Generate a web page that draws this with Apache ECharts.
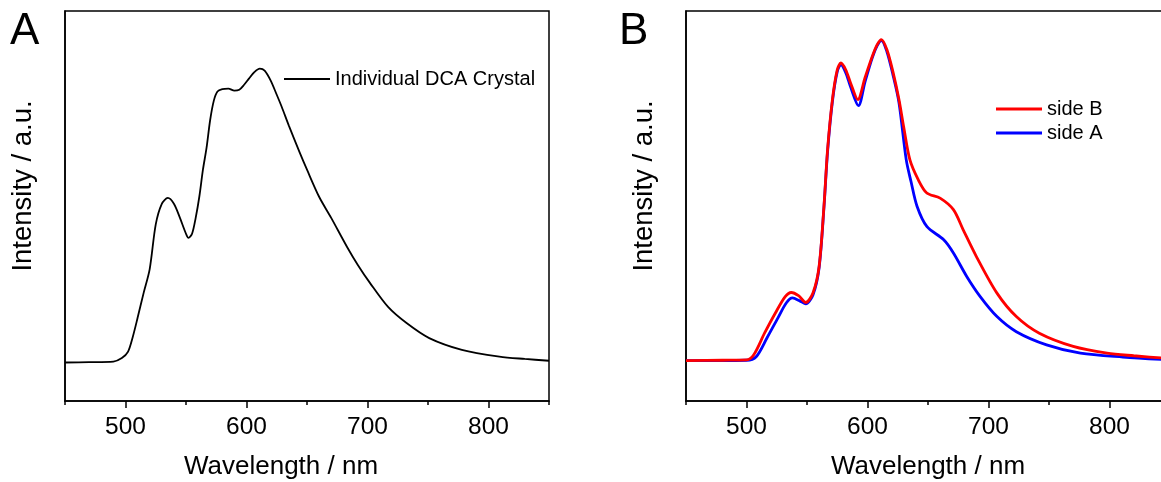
<!DOCTYPE html>
<html>
<head>
<meta charset="utf-8">
<title>DCA crystal emission spectra</title>
<script src="https://cdn.jsdelivr.net/npm/echarts@6/dist/echarts.min.js"></script>
<style>
  html, body { margin: 0; padding: 0; background: #fff; }
  #chart { width: 1161px; height: 482px; }
</style>
</head>
<body>
<div id="chart"></div>
<script>
// panel A: single crystal spectrum
const wlA = [450, 470, 490, 497, 502, 506, 510, 515, 520, 525, 530, 535, 540, 545, 550, 552, 555, 558, 561, 564,
  567, 570, 573, 576, 580, 585, 590, 594, 598, 602, 606, 611, 615, 620, 625, 629, 635, 644, 650, 660,
  670, 683, 692, 702, 717, 732, 751, 778, 809, 830, 850];
const intA = [0.000, 0.001, 0.003, 0.015, 0.036, 0.087, 0.152, 0.237, 0.318, 0.470, 0.540, 0.560, 0.540, 0.492, 0.438, 0.424, 0.438, 0.492, 0.564, 0.656,
  0.731, 0.826, 0.891, 0.922, 0.930, 0.932, 0.925, 0.928, 0.945, 0.966, 0.986, 1.000, 0.993, 0.959, 0.911, 0.871, 0.806, 0.714, 0.656, 0.564,
  0.492, 0.394, 0.332, 0.271, 0.189, 0.135, 0.083, 0.043, 0.020, 0.012, 0.006];

// panel B: two sides of the crystal
const wlSideB = [450, 480, 500, 506, 515, 524, 532, 537, 543, 549, 555, 560, 564, 567, 571, 575, 578, 582, 586, 592,
  598, 604, 608, 611.5, 616, 621, 626, 630, 635, 642, 649, 660, 671, 679, 690, 707, 723, 742, 770, 798, 820, 850];
const intSideB = [0.000, 0.001, 0.002, 0.018, 0.086, 0.149, 0.199, 0.212, 0.202, 0.181, 0.211, 0.293, 0.480, 0.657, 0.813, 0.906, 0.927, 0.906, 0.865, 0.813,
  0.882, 0.948, 0.984, 1.000, 0.969, 0.900, 0.813, 0.726, 0.626, 0.563, 0.522, 0.506, 0.470, 0.408, 0.324, 0.210, 0.137, 0.085, 0.044, 0.023, 0.015, 0.006];

const wlSideA = [450, 500, 508, 517, 526, 533, 538, 544, 549, 555, 560, 564, 567, 571, 575, 578, 582, 586, 592.5, 598,
  604, 608, 611.5, 616, 621, 626, 632, 636, 641, 649, 663, 671, 682, 693, 707, 723, 748, 776, 811, 850];
const intSideA = [0.000, 0.001, 0.012, 0.071, 0.133, 0.180, 0.195, 0.186, 0.177, 0.205, 0.289, 0.476, 0.651, 0.807, 0.900, 0.922, 0.897, 0.853, 0.794, 0.869,
  0.944, 0.981, 0.997, 0.963, 0.891, 0.804, 0.626, 0.557, 0.480, 0.418, 0.376, 0.335, 0.262, 0.200, 0.137, 0.090, 0.049, 0.023, 0.011, 0.002];

const majorTicks = [500, 600, 700, 800];
const minorTicks = [450, 550, 650, 750, 850];

const FONT = '"Liberation Sans", Arial, sans-serif';

const pairs = (xs, ys) => xs.map((x, i) => [x, ys[i]]);

function mainX(gridIndex, nameShift) {
  return {
    type: 'value', gridIndex: gridIndex, position: 'bottom',
    min: 450, max: 850, interval: 50,
    name: 'Wavelength / nm', nameLocation: 'middle', nameGap: 53,
    nameTextStyle: { fontFamily: FONT, fontSize: 26, color: '#000', padding: nameShift },
    axisLine: { show: true, onZero: false, lineStyle: { color: '#000', width: 1.5 } },
    axisTick: { show: true, customValues: majorTicks, length: 7, lineStyle: { color: '#000', width: 1.5 } },
    axisLabel: { show: true, customValues: majorTicks, margin: 14, fontFamily: FONT, fontSize: 24.5, color: '#000' },
    splitLine: { show: false }
  };
}

function minorX(gridIndex) {
  return {
    type: 'value', gridIndex: gridIndex, position: 'bottom',
    min: 450, max: 850, interval: 50,
    axisLine: { show: false, onZero: false },
    axisTick: { show: true, customValues: minorTicks, length: 4, lineStyle: { color: '#000', width: 1.5 } },
    axisLabel: { show: false },
    splitLine: { show: false }
  };
}

function yAx(gridIndex, lo, hi) {
  return {
    type: 'value', gridIndex: gridIndex, min: lo, max: hi,
    name: 'Intensity / a.u.', nameLocation: 'middle', nameRotate: 90, nameGap: 28,
    nameTextStyle: { fontFamily: FONT, fontSize: 27.5, color: '#000', padding: [0, 0, 0, 40] },
    axisLine: { show: true, onZero: false, lineStyle: { color: '#000', width: 1.5 } },
    axisTick: { show: false },
    axisLabel: { show: false },
    splitLine: { show: false }
  };
}

const chart = echarts.init(document.getElementById('chart'), null, { renderer: 'canvas' });

chart.setOption({
  backgroundColor: '#fff',
  animation: false,
  title: [
    { text: 'A', left: 10, top: 10, padding: 0, textStyle: { fontFamily: FONT, fontSize: 44, fontWeight: 'normal', color: '#000' } },
    { text: 'B', left: 619, top: 10, padding: 0, textStyle: { fontFamily: FONT, fontSize: 44, fontWeight: 'normal', color: '#000' } }
  ],
  grid: [
    { left: 65, top: 11, width: 484, height: 390, outerBoundsMode: 'none', show: true, borderColor: '#000', borderWidth: 1.5 },
    { left: 686, top: 11, width: 484, height: 390, outerBoundsMode: 'none', show: true, borderColor: '#000', borderWidth: 1.5 }
  ],
  legend: [
    {
      data: ['Individual DCA Crystal'], left: 284, top: 69, padding: 0,
      icon: 'rect', itemWidth: 46, itemHeight: 2,
      textStyle: { fontFamily: FONT, fontSize: 20, color: '#000' }
    },
    {
      data: ['side B', 'side A'], orient: 'vertical', left: 996, top: 99, padding: 0,
      icon: 'rect', itemWidth: 46, itemHeight: 3, itemGap: 4,
      textStyle: { fontFamily: FONT, fontSize: 20, color: '#000' }
    }
  ],
  xAxis: [mainX(0, [0, 52, 0, 0]), minorX(0), mainX(1, 0), minorX(1)],
  yAxis: [yAx(0, -0.131, 1.196), yAx(1, -0.126, 1.089)],
  series: [
    {
      name: 'Individual DCA Crystal', type: 'line', xAxisIndex: 0, yAxisIndex: 0,
      data: pairs(wlA, intA), symbol: 'none', smooth: 0.3,
      lineStyle: { color: '#000', width: 1.8 }, itemStyle: { color: '#000' }
    },
    {
      name: 'side A', type: 'line', xAxisIndex: 2, yAxisIndex: 1,
      data: pairs(wlSideA, intSideA), symbol: 'none', smooth: 0.3,
      lineStyle: { color: '#0000ff', width: 2.8 }, itemStyle: { color: '#0000ff' }
    },
    {
      name: 'side B', type: 'line', xAxisIndex: 2, yAxisIndex: 1,
      data: pairs(wlSideB, intSideB), symbol: 'none', smooth: 0.3,
      lineStyle: { color: '#ff0000', width: 2.8 }, itemStyle: { color: '#ff0000' }
    }
  ]
});
</script>
</body>
</html>
